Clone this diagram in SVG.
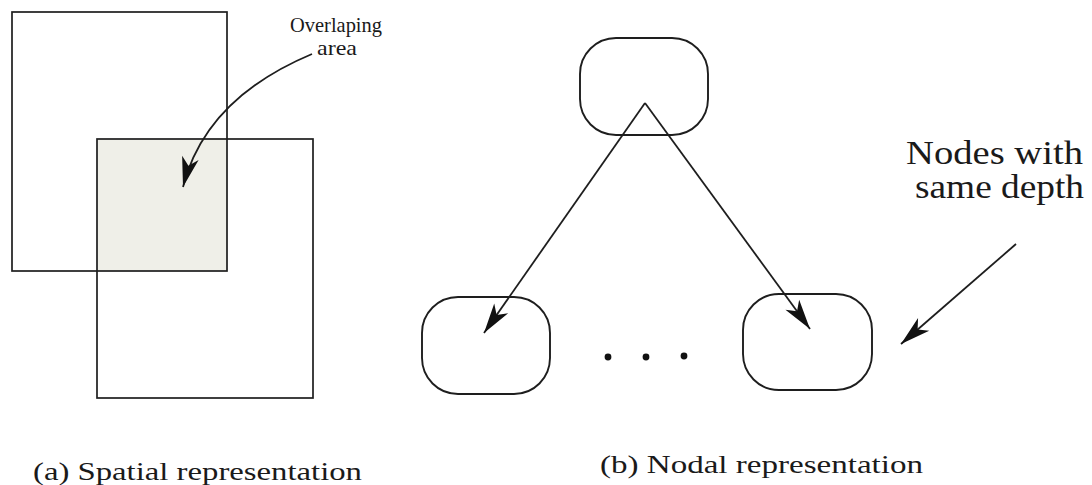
<svg xmlns="http://www.w3.org/2000/svg" width="1092" height="485" viewBox="0 0 1092 485">
  <style>
    .box { fill: none; stroke: #1e1e1e; stroke-width: 1.7; }
    .node { fill: #ffffff; stroke: #1e1e1e; stroke-width: 1.9; }
    .edge { fill: none; stroke: #1e1e1e; stroke-width: 1.8; }
    .label { font-family: "Liberation Serif", "Times New Roman", serif; fill: #1a1a1a; }
  </style>
  <defs>
    <marker id="head" viewBox="-32 -10 34 20" refX="0" refY="0" markerWidth="34" markerHeight="20" markerUnits="userSpaceOnUse" orient="auto">
      <path d="M0,0 L-30,-8.5 L-22,0 L-30,8.5 Z" fill="#111111"/>
    </marker>
  </defs>
  <rect width="1092" height="485" fill="#ffffff"/>

  <!-- (a) spatial view: two overlapping rectangles -->
  <g id="spatial">
    <rect x="97" y="139" width="130" height="132" fill="#efefe8"/>
    <rect class="box" x="12" y="12" width="215" height="259"/>
    <rect class="box" x="97" y="139" width="216" height="259"/>
    <text class="label" x="290" y="32" font-size="21" textLength="92" lengthAdjust="spacingAndGlyphs">Overlaping</text>
    <text class="label" x="317" y="55" font-size="21" textLength="40" lengthAdjust="spacingAndGlyphs">area</text>
  </g>

  <!-- (b) nodal view -->
  <g id="node-root"><rect class="node" x="580" y="38" width="128" height="97" rx="36" ry="36"/></g>
  <g id="node-left"><rect class="node" x="422" y="297" width="128" height="97" rx="36" ry="36"/></g>
  <g id="node-right"><rect class="node" x="743" y="294" width="129" height="96" rx="36" ry="36"/></g>
  <g id="ellipsis" fill="#111111">
    <circle cx="608" cy="357" r="3.4"/>
    <circle cx="646" cy="357" r="3.4"/>
    <circle cx="684" cy="356" r="3.4"/>
  </g>
  <g id="depth-note">
    <text class="label" x="906" y="164" font-size="33" textLength="177" lengthAdjust="spacingAndGlyphs">Nodes with</text>
    <text class="label" x="915" y="198" font-size="33" textLength="169" lengthAdjust="spacingAndGlyphs">same depth</text>
  </g>

  <g id="connectors">
    <path class="edge" d="M312,54 C250,80 200,120 183,187" marker-end="url(#head)"/>
    <line class="edge" x1="645" y1="103" x2="484" y2="333" marker-end="url(#head)"/>
    <line class="edge" x1="645" y1="103" x2="810" y2="329" marker-end="url(#head)"/>
    <line class="edge" x1="1016" y1="244" x2="901" y2="344" marker-end="url(#head)"/>
  </g>

  <!-- captions -->
  <g id="captions">
    <text class="label" x="33" y="480" font-size="25" textLength="329" lengthAdjust="spacingAndGlyphs">(a) Spatial representation</text>
    <text class="label" x="600" y="473" font-size="25" textLength="323" lengthAdjust="spacingAndGlyphs">(b) Nodal representation</text>
  </g>
</svg>
